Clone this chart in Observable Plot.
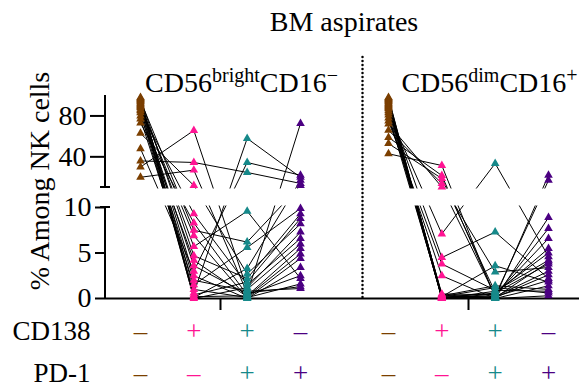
<!DOCTYPE html>
<html>
<head>
<meta charset="utf-8">
<script src="https://cdn.jsdelivr.net/npm/d3@7"></script>
<script src="https://cdn.jsdelivr.net/npm/@observablehq/plot@0.6"></script>
<style>
  body { margin: 0; background: #fff; font-family: 'Liberation Serif', 'Tinos', 'Times New Roman', 'DejaVu Serif', 'Liberation Sans', serif; }
  #title { height: 44px; line-height: 44px; font-size: 28px; padding-left: 109px; width: 470px; text-align: center; color: #000; }
  #chart svg { display: block; }
</style>
</head>
<body>
<div id="title">BM aspirates</div>
<div id="chart"></div>
<script>
// ---- categories & labels ----
const categories = ["CD138−PD-1−", "CD138+PD-1−", "CD138+PD-1+", "CD138−PD-1+"];
const categoryColors = ["#7b3f00", "#ff1493", "#16898a", "#4b0082"];
const cd138Signs = ["–", "+", "+", "–"];
const pd1Signs = ["–", "–", "+", "+"];
const rowLabels = ["CD138", "PD-1"];
const panels = ["CD56brightCD16−", "CD56dimCD16+"];
const panelTitles = ["CD56^bright^CD16^−", "CD56^dim^CD16^+"];
const yTicksLower = [0, 5, 10];
const yTicksUpper = [40, 80];
const yLabel = "% Among NK cells";

// ---- values (% among NK cells), one entry per patient ----
const brightNegNeg = [98, 97, 96, 95, 94, 93, 92, 91, 90, 89, 88, 86, 85, 83, 80, 77, 73, 63, 48, 36, 30, 20];
const brightPosNeg = [0.2, 4.7, 1.0, 7.5, 0.0, 2.5, 5.7, 0.4, 3.6, 6.9, 0.1, 2.0, 9.3, 0.6, 4.2, 1.5, 8.3, 12, 3.0, 34.5, 65.8, 27];
const brightPosPos = [0.3, 2.2, 0.1, 6.2, 1.2, 0.0, 9.6, 1.8, 0.5, 0.05, 3.3, 0.8, 1.5, 58, 0.2, 5.6, 0.4, 2.7, 34.5, 24.7, 1.0, 0.6];
const brightNegPos = [5.5, 9.3, 1.6, 12, 7.3, 3.4, 2.2, 8.8, 72.6, 4.4, 17, 1.1, 6.6, 20, 4.9, 9.9, 2.5, 8.2, 22, 14, 6.0, 1.3];

const dimNegNeg = [98, 97, 96, 95, 94, 93, 92, 91, 90, 89, 88, 87, 85, 83, 81, 78, 75, 72, 66, 59, 53, 43];
const dimPosNeg = [0.1, 0.3, 0.0, 0.2, 0.4, 0.1, 0.0, 0.2, 0.5, 0.3, 0.0, 4.5, 0.1, 7.1, 0.2, 2.5, 3.8, 10.5, 13.9, 21.7, 18.8, 31.5];
const dimPosPos = [0.2, 0.0, 0.5, 1.2, 0.1, 0.3, 0.8, 0.0, 0.4, 1.4, 0.1, 7.3, 0.6, 33.5, 3.6, 0.0, 0.9, 0.3, 2.9, 0.2, 0.7, 0.1];
const dimNegPos = [3.0, 1.4, 5.5, 0.6, 2.6, 17, 4.2, 0.3, 6.6, 1.0, 22, 2.2, 3.8, 4.6, 1.8, 8.9, 0.8, 7.7, 3.4, 2.0, 5.0, 4.0];

// ---- build tables ----
const panelValues = [
  [brightNegNeg, brightPosNeg, brightPosPos, brightNegPos],
  [dimNegNeg, dimPosNeg, dimPosPos, dimNegPos]
];
const slot = (p, c) => p * (categories.length + 1) + c;
const rows = [];
panels.forEach((panel, p) => {
  const n = panelValues[p][0].length;
  for (let i = 0; i < n; i++) {
    categories.forEach((cat, c) => {
      rows.push({series: p + "-" + i, panel, category: cat, pos: slot(p, c), value: panelValues[p][c][i]});
    });
  }
});
const labelRows = panels.flatMap((panel, p) => categories.map((cat, c) => ({
  pos: slot(p, c), category: cat, cd138: cd138Signs[c], pd1: pd1Signs[c]
})));
const panelCenters = panels.map((_, p) => slot(p, (categories.length - 1) / 2));
const separators = panels.slice(1).map((_, k) => slot(k + 1, -1));
const titleRows = panels.map((_, p) => ({pos: panelCenters[p], title: panelTitles[p]}));

// broken y scale: lower 0–10, upper 10–100
const lowerMax = 10, upperMin = 10.0001, upperMax = 100;

function brokenYAxis(index, scales, values, dimensions) {
  const y = scales.y;
  const x0 = dimensions.marginLeft;
  const g = d3.create("svg:g");
  const gapTop = y(upperMin), gapBottom = y(lowerMax);
  g.append("rect")
    .attr("x", x0 - 8).attr("y", gapTop + 1.5)
    .attr("width", dimensions.width - x0 + 8).attr("height", gapBottom - gapTop - 3)
    .attr("fill", "white");
  const ln = (x1, y1, x2, y2) => g.append("line")
    .attr("x1", x1).attr("y1", y1).attr("x2", x2).attr("y2", y2)
    .attr("stroke", "black").attr("stroke-width", 2);
  ln(x0, y(0), x0, y(lowerMax));
  ln(x0, y(upperMin), x0, y(upperMax));
  ln(x0 - 5, y(lowerMax), x0 + 5, y(lowerMax));
  ln(x0 - 5, y(upperMin), x0 + 5, y(upperMin));
  return g.node();
}

const plot = Plot.plot({
  width: 579,
  height: 344,
  marginLeft: 105,
  marginRight: 0,
  marginTop: 51,
  marginBottom: 90,
  style: {fontFamily: "'Liberation Serif', 'Tinos', 'Times New Roman', 'DejaVu Serif', 'Liberation Sans', serif", fontSize: "28px", color: "black", background: "white"},
  x: {
    type: "linear",
    domain: [slot(0, 0), slot(0, 3), separators[0], slot(1, 0), slot(1, 3)],
    range: [140, 300, 362, 388, 548],
    label: null
  },
  y: {
    type: "linear",
    domain: [0, lowerMax, upperMin, upperMax],
    range: [254, 163, 143, 51],
    label: null
  },
  color: {type: "ordinal", domain: categories, range: categoryColors},
  marks: [
    Plot.line(rows, {x: "pos", y: "value", z: "series", stroke: "black", strokeWidth: 1}),
    brokenYAxis,
    Plot.ruleX(separators, {x: d => d, stroke: "black", strokeWidth: 2.5, strokeDasharray: "0,4", strokeLinecap: "round", insetTop: -38}),
    Plot.ruleY([0], {stroke: "black", strokeWidth: 2}),
    Plot.dot(rows, {x: "pos", y: "value", symbol: "triangle", fill: "category", r: 3.2}),
    Plot.axisY(yTicksUpper, {tickSize: 15, tickPadding: 4, strokeWidth: 2, label: null}),
    Plot.axisY(yTicksLower, {tickSize: 10, tickPadding: 4, strokeWidth: 2, label: null}),
    Plot.axisX(panelCenters, {tickSize: 12, strokeWidth: 2, tickFormat: () => "", label: null}),
    Plot.text(titleRows, {x: "pos", text: "title", frameAnchor: "top", lineAnchor: "middle", dx: 21, dy: -12, fill: "black"}),
    Plot.text([yLabel], {text: d => d, frameAnchor: "left", rotate: -90, lineAnchor: "middle", textAnchor: "middle", dx: -65, dy: -16, fill: "black"}),
    Plot.text([rowLabels[0]], {text: d => d, frameAnchor: "bottom-left", textAnchor: "end", lineAnchor: "middle", dx: -15, dy: 32.5, fontSize: 27, fill: "black"}),
    Plot.text([rowLabels[1]], {text: d => d, frameAnchor: "bottom-left", textAnchor: "end", lineAnchor: "middle", dx: -15, dy: 75, fontSize: 27, fill: "black"}),
    Plot.text(labelRows, {x: "pos", text: "cd138", fill: "category", frameAnchor: "bottom", lineAnchor: "middle", dy: 32.5, fontSize: 27}),
    Plot.text(labelRows, {x: "pos", text: "pd1", fill: "category", frameAnchor: "bottom", lineAnchor: "middle", dy: 75, fontSize: 27})
  ]
});

// superscripts in panel titles (segments between ^ are raised)
plot.querySelectorAll("text").forEach(t => {
  const s = t.textContent;
  if (!s.includes("^")) return;
  const parts = s.split("^");
  t.textContent = "";
  parts.forEach((part, k) => {
    if (!part) return;
    const ts = document.createElementNS("http://www.w3.org/2000/svg", "tspan");
    ts.textContent = part;
    if (k % 2) { ts.setAttribute("font-size", "20"); ts.setAttribute("dy", "-10"); }
    else if (k > 0) ts.setAttribute("dy", "10");
    t.appendChild(ts);
  });
});

document.getElementById("chart").appendChild(plot);
</script>
</body>
</html>
